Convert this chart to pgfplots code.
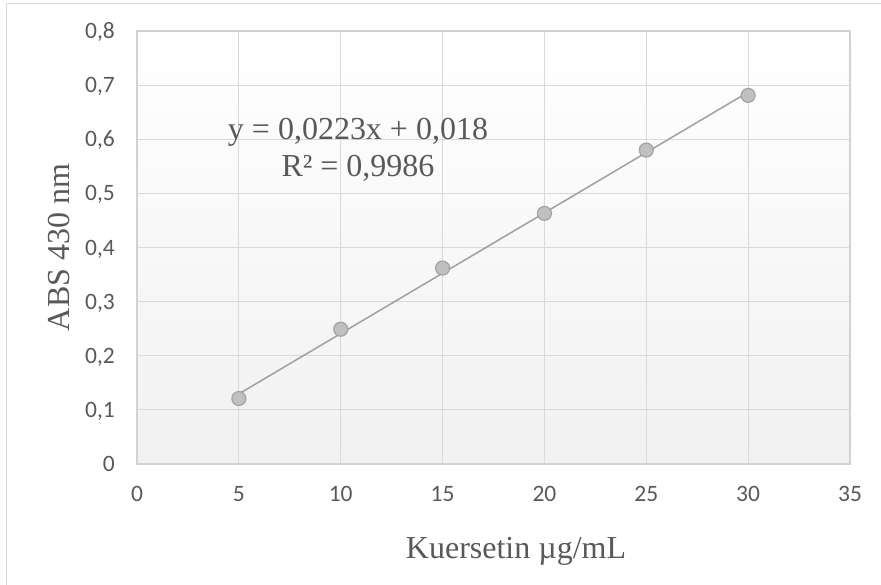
\documentclass[border=0pt]{standalone}
\usepackage{fontspec}
\setmainfont{Liberation Serif}
\newfontfamily\calibri{Carlito}
\usepackage{pgfplots}
\pgfplotsset{compat=1.18}
\definecolor{gridgray}{RGB}{217,217,217}
\definecolor{framegray}{RGB}{210,210,210}
\definecolor{txtgray}{RGB}{89,89,89}
\definecolor{markfill}{RGB}{192,192,192}
\definecolor{markedge}{RGB}{163,163,163}
\definecolor{linegray}{RGB}{160,160,160}
\definecolor{bgbottom}{RGB}{241,241,241}
\begin{document}
\begin{tikzpicture}
\useasboundingbox (0pt,0pt) rectangle (881pt,584pt);
\draw[gridgray, line width=1.2pt] (6.7pt,-5pt) -- (6.7pt,580.7pt) -- (890pt,580.7pt);
\begin{axis}[
  at={(137pt,120pt)}, anchor=south west,
  scale only axis, width=713pt, height=433pt,
  xmin=0, xmax=35, ymin=0, ymax=0.8,
  xtick={0,5,10,15,20,25,30,35},
  ytick={0,0.1,0.2,0.3,0.4,0.5,0.6,0.7,0.8},
  /pgf/number format/use comma,
  /pgf/number format/fixed,
  /pgf/number format/precision=1,
  /pgf/number format/assume math mode=true,
  axis background/.style={top color=white, bottom color=bgbottom},
  grid=major,
  major grid style={gridgray, line width=1.2pt},
  axis line style={framegray, line width=1.5pt},
  major tick length=0pt, tick style={draw=none},
  ticklabel style={font=\calibri\fontsize{23.5}{24}\selectfont, text=txtgray},
  yticklabel style={inner sep=0pt, anchor=base east, xshift=-22pt, yshift=-7.5pt},
  xticklabel style={inner sep=0pt, anchor=north, yshift=-22pt},
  xlabel={Kuersetin µg/mL}, ylabel={ABS 430 nm},
  every axis x label/.style={at={(axis description cs:0.5316,-0.2171)}, anchor=base, font=\fontsize{32}{36}\selectfont, text=txtgray},
  every axis y label/.style={at={(axis description cs:-0.1094,0.5)}, anchor=center, rotate=90, font=\fontsize{32}{36}\selectfont, text=txtgray},
  clip=false,
]
\addplot[only marks, mark=*, mark size=7pt, mark options={fill=markfill, draw=markedge, line width=1.2pt}]
  coordinates {(5,0.121) (10,0.249) (15,0.362) (20,0.463) (25,0.580) (30,0.681)};
\addplot[linegray, line width=1.5pt, no marks] coordinates {(5,0.1295) (30,0.687)};
\node[anchor=base, font=\fontsize{32}{36}\selectfont, text=txtgray] at (axis cs:10.85,0.5987) {y = 0,0223x + 0,018};
\node[anchor=base, font=\fontsize{32}{36}\selectfont, text=txtgray] at (axis cs:10.85,0.532) {R² = 0,9986};
\end{axis}
\end{tikzpicture}
\end{document}
